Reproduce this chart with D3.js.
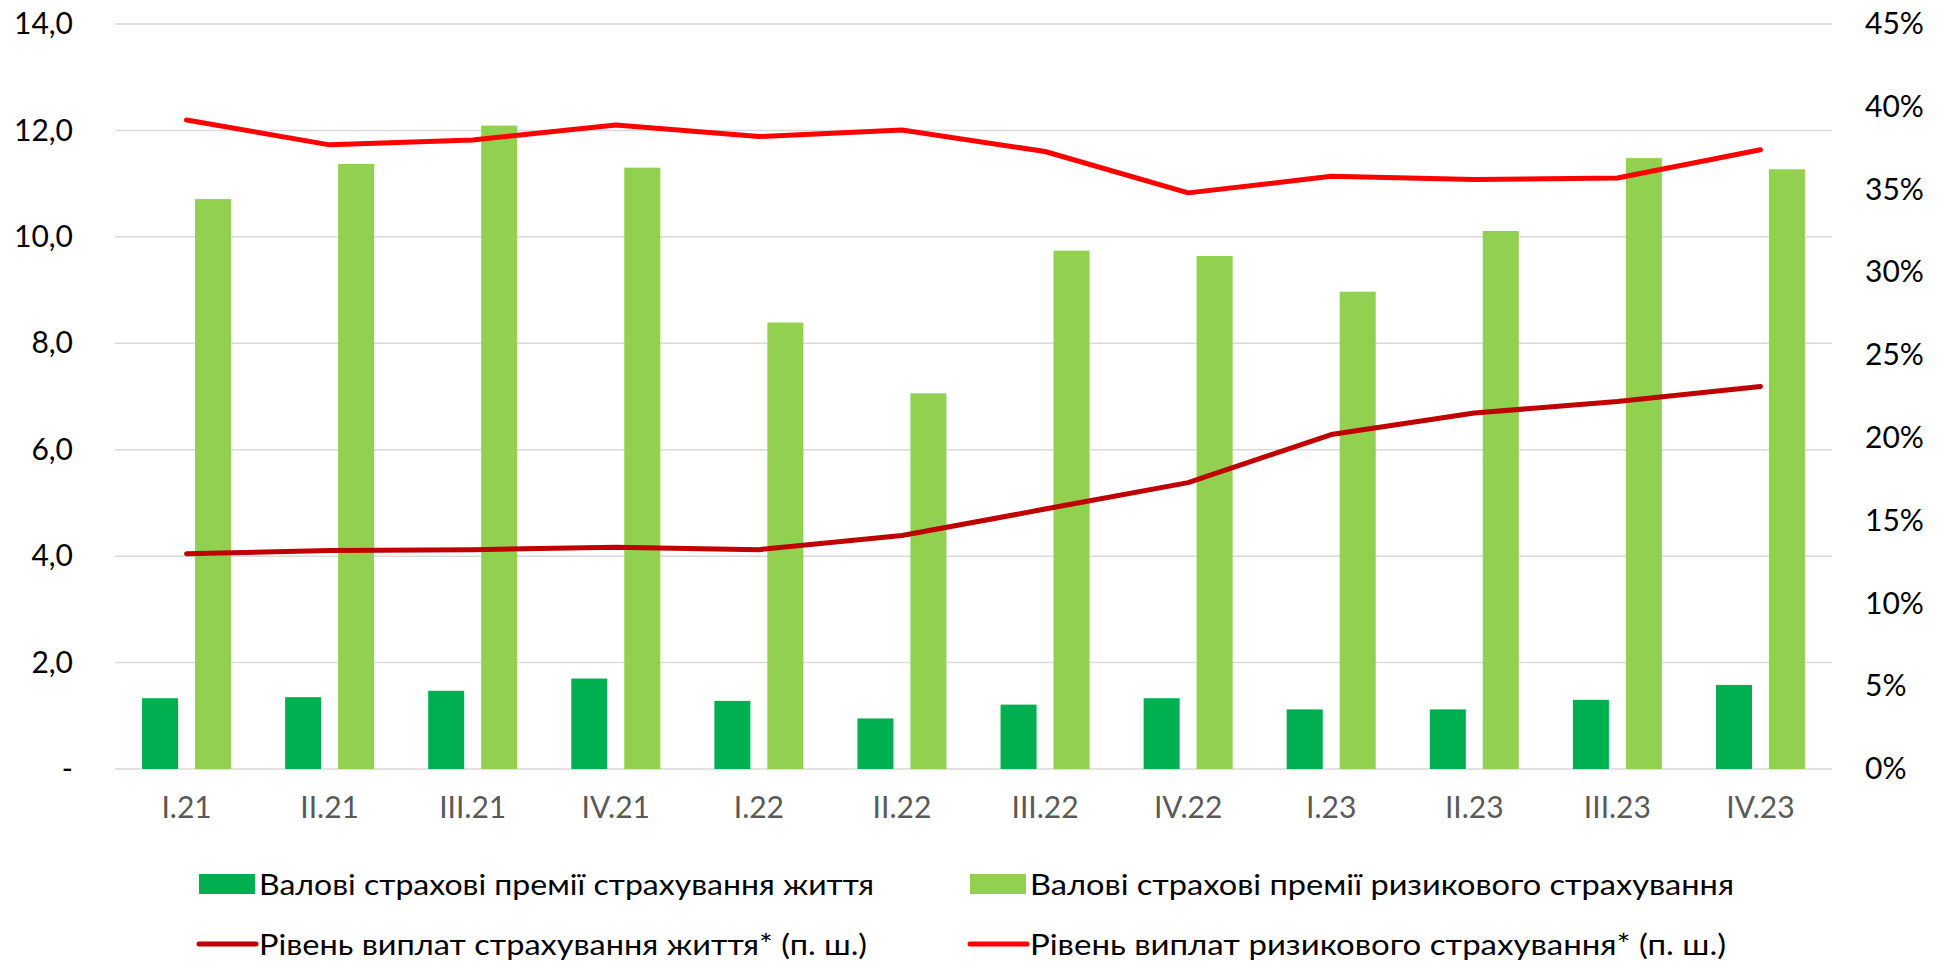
<!DOCTYPE html>
<html>
<head>
<meta charset="utf-8">
<script src="https://cdn.jsdelivr.net/npm/d3@7"></script>
<style>
  body { margin: 0; background: #fff; }
  text { font-family: Lato, "Open Sans", sans-serif; }
</style>
</head>
<body>
<div id="container"></div>
<script>
var width = 1945,
    height = 963,
    margin = { left: 115, top: 24, right: 113, bottom: 194 },
    g_width = width - margin.left - margin.right,
    g_height = height - margin.top - margin.bottom;

// дані
var categories = ["I.21","II.21","III.21","IV.21","I.22","II.22","III.22","IV.22","I.23","II.23","III.23","IV.23"];
var lifePremiums = [1.33, 1.35, 1.47, 1.70, 1.28, 0.95, 1.21, 1.33, 1.12, 1.12, 1.30, 1.58];
var riskPremiums = [10.71, 11.37, 12.09, 11.30, 8.39, 7.06, 9.74, 9.64, 8.97, 10.11, 11.48, 11.27];
var lifePayout = [13.0, 13.2, 13.25, 13.4, 13.25, 14.1, 15.7, 17.3, 20.2, 21.5, 22.2, 23.1];
var riskPayout = [39.2, 37.7, 38.0, 38.9, 38.2, 38.6, 37.3, 34.8, 35.8, 35.6, 35.7, 37.4];
var leftTicks = [0, 2, 4, 6, 8, 10, 12, 14];
var rightTicks = [0, 5, 10, 15, 20, 25, 30, 35, 40, 45];
var legendNames = [
  "Валові страхові премії страхування життя",
  "Валові страхові премії ризикового страхування",
  "Рівень виплат страхування життя* (п. ш.)",
  "Рівень виплат ризикового страхування* (п. ш.)"
];

var colors = { life: "#00B050", risk: "#92D050", lifeLine: "#C00000", riskLine: "#FF0000" };

var svg = d3.select("#container")
  .append("svg")
  .attr("width", width)
  .attr("height", height);

var g = svg.append("g")
  .attr("transform", "translate(" + margin.left + "," + margin.top + ")");

var x0 = d3.scaleBand().domain(categories).range([0, g_width]);
var groupW = 89;
var x1 = d3.scaleBand().domain(["life", "risk"]).range([0, groupW]).paddingInner(0.32);
var y = d3.scaleLinear().domain([0, 14]).range([g_height, 0]);
var y2 = d3.scaleLinear().domain([0, 45]).range([g_height, 0]);

// сітка
g.append("g")
  .selectAll("line")
  .data(leftTicks)
  .enter().append("line")
  .attr("x1", 0).attr("x2", g_width)
  .attr("y1", function(d) { return y(d); })
  .attr("y2", function(d) { return y(d); })
  .attr("stroke", "#d9d9d9")
  .attr("stroke-width", 1.5);

// ліва вісь
var y_axis = d3.axisLeft(y)
  .tickValues(leftTicks)
  .tickSize(0)
  .tickPadding(42)
  .tickFormat(function(d) { return d === 0 ? "-" : d3.format(".1f")(d).replace(".", ","); });
g.append("g").call(y_axis)
  .call(function(s) { s.select(".domain").remove(); })
  .selectAll("text")
  .attr("font-size", 30)
  .attr("fill", "#000")
  .attr("font-family", "Lato");

// права вісь
var y2_axis = d3.axisRight(y2)
  .tickValues(rightTicks)
  .tickSize(0)
  .tickPadding(33)
  .tickFormat(function(d) { return d + "%"; });
g.append("g").attr("transform", "translate(" + g_width + ",0)").call(y2_axis)
  .call(function(s) { s.select(".domain").remove(); })
  .selectAll("text")
  .attr("font-size", 30)
  .attr("fill", "#000")
  .attr("font-family", "Lato");

// вісь x
var x_axis = d3.axisBottom(x0).tickSize(0).tickPadding(28);
g.append("g").attr("transform", "translate(0," + g_height + ")").call(x_axis)
  .call(function(s) { s.select(".domain").remove(); })
  .selectAll("text")
  .attr("font-size", 30)
  .attr("fill", "#595959")
  .attr("font-family", "Lato");

// стовпці
var groups = g.append("g")
  .selectAll("g")
  .data(categories)
  .enter().append("g")
  .attr("transform", function(d) { return "translate(" + (x0(d) + (x0.bandwidth() - groupW) / 2) + ",0)"; });

groups.append("rect")
  .attr("x", x1("life"))
  .attr("width", x1.bandwidth())
  .attr("y", function(d, i) { return y(lifePremiums[i]); })
  .attr("height", function(d, i) { return g_height - y(lifePremiums[i]); })
  .attr("fill", colors.life);

groups.append("rect")
  .attr("x", x1("risk"))
  .attr("width", x1.bandwidth())
  .attr("y", function(d, i) { return y(riskPremiums[i]); })
  .attr("height", function(d, i) { return g_height - y(riskPremiums[i]); })
  .attr("fill", colors.risk);

// лінії
var line_generator = d3.line()
  .x(function(d, i) { return x0(categories[i]) + x0.bandwidth() / 2; })
  .y(function(d) { return y2(d); });

g.append("path")
  .attr("d", line_generator(lifePayout))
  .attr("fill", "none")
  .attr("stroke", colors.lifeLine)
  .attr("stroke-width", 5)
  .attr("stroke-linecap", "round")
  .attr("stroke-linejoin", "round");

g.append("path")
  .attr("d", line_generator(riskPayout))
  .attr("fill", "none")
  .attr("stroke", colors.riskLine)
  .attr("stroke-width", 5)
  .attr("stroke-linecap", "round")
  .attr("stroke-linejoin", "round");

// легенда
var legendItems = [
  { name: legendNames[0], type: "rect", color: colors.life, x: 199, y: 884, w: 615 },
  { name: legendNames[1], type: "rect", color: colors.risk, x: 970, y: 884, w: 704 },
  { name: legendNames[2], type: "line", color: colors.lifeLine, x: 199, y: 944, w: 608 },
  { name: legendNames[3], type: "line", color: colors.riskLine, x: 970, y: 944, w: 696 }
];

var legend = svg.append("g")
  .selectAll("g")
  .data(legendItems)
  .enter().append("g")
  .attr("transform", function(d) { return "translate(" + d.x + "," + d.y + ")"; });

legend.filter(function(d) { return d.type === "rect"; })
  .append("rect")
  .attr("x", 0).attr("y", -10)
  .attr("width", 56).attr("height", 20)
  .attr("fill", function(d) { return d.color; });

legend.filter(function(d) { return d.type === "line"; })
  .append("line")
  .attr("x1", 0).attr("x2", 57)
  .attr("y1", 0).attr("y2", 0)
  .attr("stroke", function(d) { return d.color; })
  .attr("stroke-width", 5)
  .attr("stroke-linecap", "round");

legend.append("text")
  .attr("x", 60)
  .attr("y", 11)
  .attr("font-size", 29)
  .attr("fill", "#000")
  .attr("textLength", function(d) { return d.w; })
  .attr("lengthAdjust", "spacingAndGlyphs")
  .text(function(d) { return d.name; });
</script>
</body>
</html>
